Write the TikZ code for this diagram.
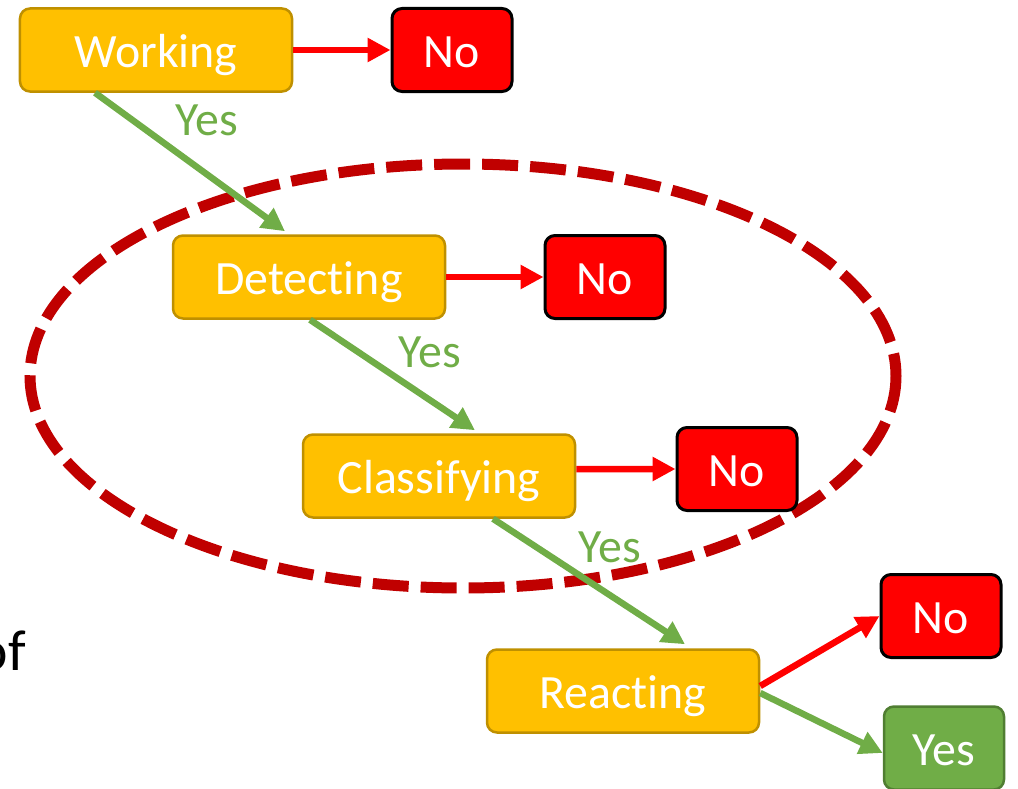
\documentclass[tikz,border=0pt]{standalone}
\usepackage{fontspec}
\setmainfont{Carlito}[RawFeature={-liga}]
\usetikzlibrary{arrows.meta}
\definecolor{boxyellow}{HTML}{FFC000}
\definecolor{yellowborder}{HTML}{BF9000}
\definecolor{boxred}{HTML}{FF0000}
\definecolor{boxgreen}{HTML}{70AD47}
\definecolor{greenborder}{HTML}{507E32}
\definecolor{darkred}{HTML}{C00000}
\begin{document}
\begin{tikzpicture}[x=1bp,y=-1bp,
  bigfont/.style={font=\fontsize{48}{58}\selectfont},
  boxbase/.style={line width=2.5bp, rounded corners=10bp, minimum height=83bp,
    text=white, bigfont, inner sep=0pt, text height=35bp, text depth=0bp},
  proc/.style={boxbase, draw=yellowborder, fill=boxyellow, minimum width=272bp},
  nobox/.style={boxbase, draw=black, fill=boxred, line width=3bp, minimum width=120bp},
  yesbox/.style={boxbase, draw=greenborder, fill=boxgreen, minimum width=120bp},
  garrow/.style={draw=boxgreen, line width=6.5bp, -{Triangle[length=23bp,width=23bp]}},
  rarrow/.style={draw=boxred, line width=6.5bp, -{Triangle[length=23bp,width=23bp]}},
  lbl/.style={text=boxgreen, bigfont, inner sep=0pt, anchor=base},
  ring/.style={draw=darkred, line width=11bp, dash pattern=on 36bp off 12bp}
]
\useasboundingbox (0,0) rectangle (1018,789);

% dashed ellipse
\draw[ring] (463,376) ellipse [x radius=433, y radius=212];

% boxes
\node[proc] (work) at (156,50) {Working};
\node[nobox] (no1) at (452,50) {No};
\node[proc] (det) at (309,277) {Detecting};
\node[nobox] (no2) at (605,277) {No};
\node[proc] (cls) at (439,476) {Classifying};
\node[nobox] (no3) at (737,469) {No};
\node[proc] (rea) at (623,691) {Reacting};
\node[nobox] (no4) at (941,616) {No};
\node[yesbox] (yes) at (944,748) {Yes};

% side text
\node[anchor=base east, inner sep=0pt, font=\fontsize{58}{70}\selectfont] (of) at (26,670) {of};

% connectors
\draw[rarrow] (work.east) -- (no1.west);
\draw[rarrow] (det.east) -- (no2.west);
\draw[rarrow] ([yshift=7bp]cls.east) -- (no3.west);
\draw[garrow] ([xshift=-61bp]work.south) -- ([xshift=-24bp,yshift=3bp]det.north);
\draw[garrow] ([xshift=1bp]det.south) -- ([xshift=36bp,yshift=3bp]cls.north);
\draw[garrow] ([xshift=54bp]cls.south) -- ([xshift=62bp,yshift=4bp]rea.north);
\draw[rarrow] ([yshift=5bp]rea.east) -- (no4.west);
\draw[garrow] ([yshift=-2bp]rea.east) -- ([yshift=-5bp]yes.west);

% labels
\node[lbl] (y1) at (207,135) {Yes};
\node[lbl] (y2) at (430,367) {Yes};
\node[lbl] (y3) at (610,562) {Yes};
\end{tikzpicture}
\end{document}
